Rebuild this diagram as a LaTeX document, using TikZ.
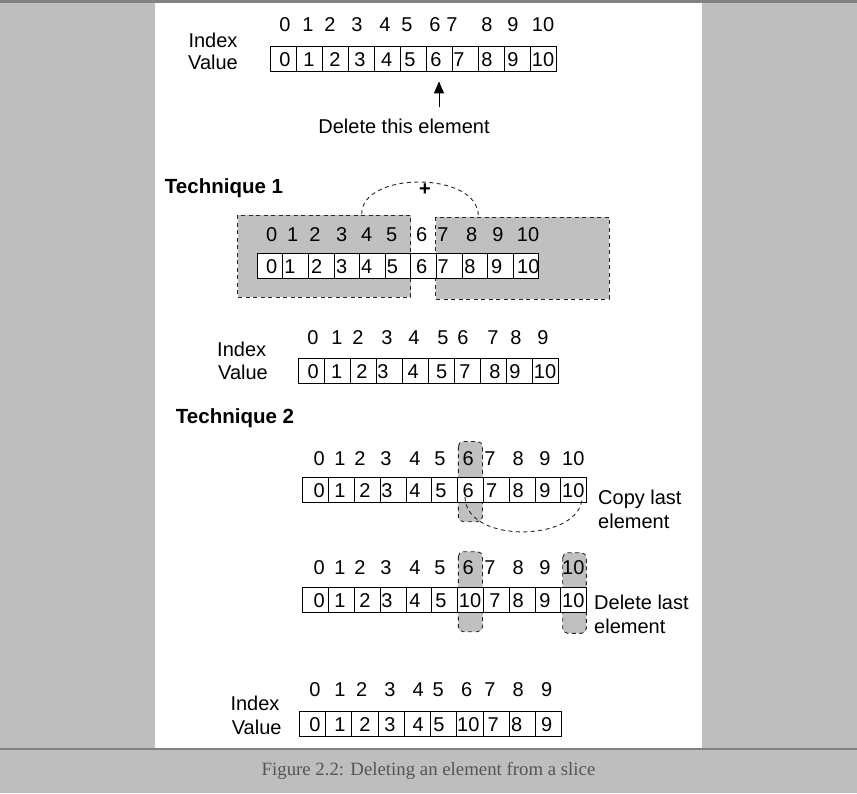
\documentclass[tikz,border=0pt]{standalone}
\usepackage{fontspec}
\setmainfont{Liberation Sans}
\newfontfamily\capfont{Liberation Serif}
\usetikzlibrary{arrows.meta}
\definecolor{pagegray}{HTML}{BEBEBE}
\definecolor{boxgray}{HTML}{C0C0C0}
\definecolor{rulegray}{HTML}{828282}
\definecolor{capgray}{HTML}{555555}
\newcommand\mkcells[6]{% prefix, x0, cell width, y centre, last index, height
  \foreach \k in {0,...,#5}{%
    \node[cellbox, minimum width=#3pt, minimum height=#6pt] (#1\k) at ({#2+(\k+0.5)*#3}, #4) {};
  }}
\newcommand\mklabels[3]{% prefix, y, list text/x
  \foreach \t/\x [count=\k from 0] in {#3}{%
    \node[digit] (#1\k) at (\x,#2) {\t};
  }}
\begin{document}
\begin{tikzpicture}[x=1pt,y=-1pt,
  font=\fontsize{20}{22}\selectfont,
  txt/.style={inner sep=0pt, anchor=center},
  digit/.style={inner sep=0pt, anchor=center, text height=14.3pt, text depth=0pt},
  cellbox/.style={draw=black, fill=white, line width=0.9pt, inner sep=0pt},
  dashline/.style={draw=black!85, line width=0.9pt, dash pattern=on 4pt off 3.5pt},
  grayzone/.style={dashline, fill=boxgray},
  roundzone/.style={grayzone, rounded corners=5pt},
  pointer/.style={line width=1pt, -{Triangle[length=12pt,width=10pt]}},
  techlabel/.style={txt, font=\fontsize{20.5}{22}\selectfont\bfseries},
  sidenote/.style={inner sep=0pt, anchor=west, align=left, font=\fontsize{20}{24.5}\selectfont}]
% page
\fill[pagegray] (0,0) rectangle (857,793);
\fill[white] (155,0) rectangle (702,749);
\fill[rulegray] (0,0) rectangle (857,2.5);
\fill[rulegray] (0,747.8) rectangle (857,750.3);
\useasboundingbox (0,0) rectangle (857,793);

% ---------- original slice ----------
\node[txt] (idx1) at (213,40) {Index};
\node[txt] (val1) at (213,62.5) {Value};
\mklabels{ia}{24}{0/285,1/308,2/330,3/357,4/385,5/407,6/435,7/452,8/487,9/513,10/543}
\mkcells{ca}{270}{26}{58.5}{10}{25}
\mklabels{va}{59}{0/285,1/309,2/335,3/360,4/386.7,5/410,6/436,7/459,8/487,9/513,10/543}
\node[txt] (del) at (404,126) {Delete this element};
\draw[pointer, shorten <=11pt, shorten >=10pt] (del.north -| ca6.south) -- (ca6.south);

% ---------- technique 1 ----------
\node[techlabel] (tech1) at (224,188) {Technique 1};
\draw[grayzone] (237.7,215) rectangle (410.7,297);
\draw[grayzone] (435.7,217) rectangle (609,299);
\coordinate (arcl) at (361.7,214);
\coordinate (arcr) at (478.3,216);
\draw[dashline] (arcl) .. controls (361.5,171) and (478.5,171) .. (arcr);
\node[txt, font=\fontsize{20}{22}\selectfont\bfseries] (plus) at (425,190) {+};
\mklabels{ib}{234}{0/271.7,1/292.7,2/315,3/341.7,4/366.7,5/391.7,6/421.7,7/443,8/471.7,9/498,10/528}
\mkcells{cb}{257.3}{25.6}{266}{10}{25}
\mklabels{vb}{266}{0/271.7,1/290,2/316.7,3/341.7,4/366.7,5/392.5,6/421.7,7/443.3,8/470,9/496.7,10/528.3}

% ---------- result 1 ----------
\node[txt] (idx2) at (241.7,349) {Index};
\node[txt] (val2) at (243,372) {Value};
\mklabels{ic}{337}{0/313,1/337,2/358,3/387,4/414,5/443,6/463,7/493,8/516,9/543}
\mkcells{cc}{298.3}{26}{370.5}{9}{25}
\mklabels{vc}{371}{0/313.3,1/336.7,2/362,3/383,4/413.3,5/441.7,7/465,8/495,9/515,10/545}

% ---------- technique 2 ----------
\node[techlabel] (tech2) at (235,418) {Technique 2};
% step A
\draw[roundzone] (458.3,441.5) rectangle (482.5,521.7);
\mklabels{id}{458}{0/319.3,1/340,2/360,3/386,4/415,5/440,6/468.3,7/490,8/518.3,9/545,10/573.3}
\mkcells{cd}{302.7}{25.82}{490}{10}{25.6}
\mklabels{vd}{490}{0/319.3,1/340,2/365,3/387,4/415,5/441,6/468.3,7/491.7,8/518.3,9/545,10/573.3}
\coordinate (cpl) at (465,497);
\coordinate (cpr) at (582,497);
\draw[dashline] (cpl) .. controls (466,545) and (582,542) .. (cpr);
\node[sidenote] (copy) at (598,509.5) {Copy last\\element};
% step B
\draw[roundzone] (458.3,551.7) rectangle (482.5,631.7);
\draw[roundzone] (562.7,552.7) rectangle (586.3,633.3);
\mklabels{ie}{567}{0/319.3,1/340,2/360,3/386,4/415,5/440,6/468.3,7/490,8/518.3,9/545,10/573.3}
\mkcells{ce}{302.7}{25.82}{600}{10}{25.6}
\mklabels{ve}{600}{0/319.3,1/340,2/365,3/387,4/415,5/441,10/470,7/495,8/518.3,9/545,10/573.3}
\node[sidenote] (dellast) at (594,614.5) {Delete last\\element};

% ---------- result 2 ----------
\node[txt] (idx3) at (255,703) {Index};
\node[txt] (val3) at (256.7,727) {Value};
\mklabels{if}{689}{0/315,1/340,2/361.7,3/390,4/418.3,5/438.3,6/466.7,7/490,8/518.3,9/546.7}
\mkcells{cf}{299.3}{26.24}{724}{9}{25}
\mklabels{vf}{724}{0/315,1/340,2/365,3/390,4/418.3,5/439,10/468.3,7/493.3,8/516.7,9/546.7}

% caption
\node[txt, font=\capfont\fontsize{18.8}{20}\selectfont, text=capgray] (caption) at (428.5,771) {Figure 2.2: Deleting an element from a slice};
\end{tikzpicture}
\end{document}
